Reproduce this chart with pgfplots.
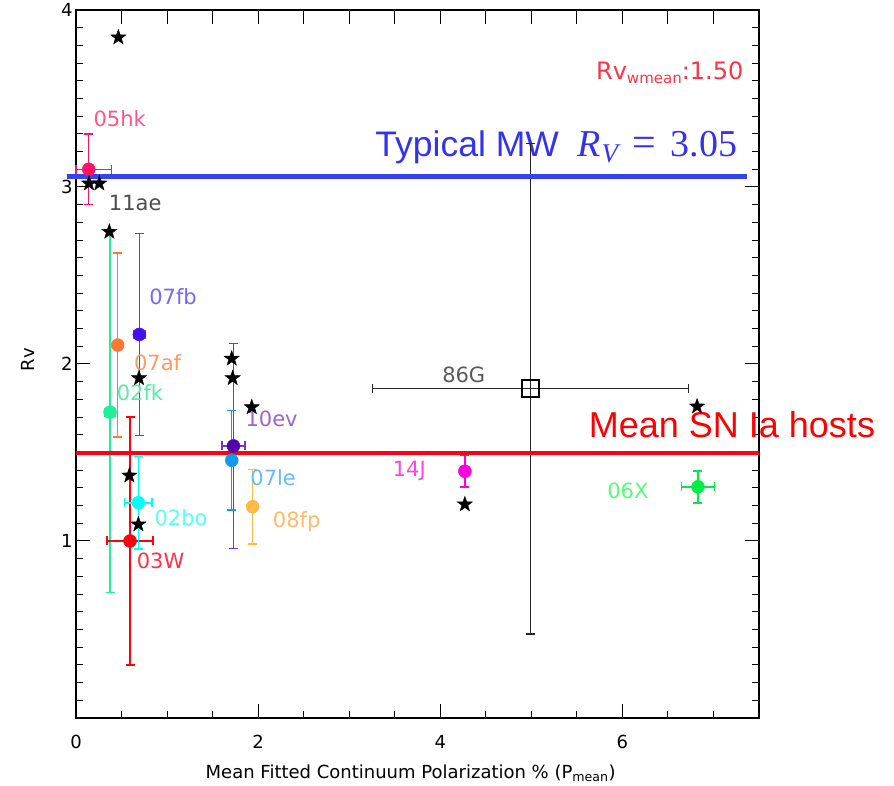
\documentclass[border=0pt]{standalone}
\usepackage{pgfplots}
\pgfplotsset{compat=1.18}
\usepackage{fontspec}
\setmainfont{DejaVu Sans}
\newfontfamily\arialf{Liberation Sans}
\newfontfamily\seriff{Liberation Serif}
\definecolor{c05hk}{HTML}{FF1166}\definecolor{l05hk}{HTML}{FF5588}
\definecolor{c02fk}{HTML}{22EE99}\definecolor{l02fk}{HTML}{55EEAA}
\definecolor{c07af}{HTML}{FF7733}\definecolor{l07af}{HTML}{FF9966}
\definecolor{c07fb}{HTML}{4411EE}\definecolor{e07fb}{HTML}{6633FF}\definecolor{l07fb}{HTML}{7766FF}
\definecolor{c10ev}{HTML}{5500AA}\definecolor{e10ev}{HTML}{7733CC}\definecolor{l10ev}{HTML}{9966CC}
\definecolor{c07le}{HTML}{1199EE}\definecolor{l07le}{HTML}{66BBFF}
\definecolor{c08fp}{HTML}{FFBB44}\definecolor{l08fp}{HTML}{FFBB66}
\definecolor{c02bo}{HTML}{00FFFF}\definecolor{l02bo}{HTML}{55FFFF}
\definecolor{c03W}{HTML}{FF0011}\definecolor{l03W}{HTML}{FF3344}
\definecolor{c14J}{HTML}{FF00DD}\definecolor{l14J}{HTML}{FF44EE}
\definecolor{c06X}{HTML}{00EE44}\definecolor{l06X}{HTML}{55FF77}
\definecolor{mwblue}{HTML}{3344EE}
\definecolor{mwtext}{HTML}{3333EE}
\definecolor{snred}{HTML}{FF0011}
\pgfdeclareplotmark{fstar}{%
  \pgfpathmoveto{\pgfpointpolar{90}{\pgfplotmarksize}}%
  \pgfpathlineto{\pgfpointpolar{126}{0.4\pgfplotmarksize}}%
  \pgfpathlineto{\pgfpointpolar{162}{\pgfplotmarksize}}%
  \pgfpathlineto{\pgfpointpolar{198}{0.4\pgfplotmarksize}}%
  \pgfpathlineto{\pgfpointpolar{234}{\pgfplotmarksize}}%
  \pgfpathlineto{\pgfpointpolar{270}{0.4\pgfplotmarksize}}%
  \pgfpathlineto{\pgfpointpolar{306}{\pgfplotmarksize}}%
  \pgfpathlineto{\pgfpointpolar{342}{0.4\pgfplotmarksize}}%
  \pgfpathlineto{\pgfpointpolar{18}{\pgfplotmarksize}}%
  \pgfpathlineto{\pgfpointpolar{54}{0.4\pgfplotmarksize}}%
  \pgfpathclose
  \pgfusepathqfillstroke}
\pgfplotsset{
  pt/.style={only marks, mark=*, mark size=6.5pt,
    error bars/x dir=both, error bars/x explicit,
    error bars/y dir=both, error bars/y explicit,
    error bars/error bar style={line width=1.5pt},
    error bars/error mark options={rotate=90, mark size=4.5pt, line width=1.5pt}},
  ebcol/.style={error bars/error bar style={line width=1.5pt, color=#1},
    error bars/error mark options={rotate=90, mark size=4.5pt, line width=1.5pt, color=#1}},
}
\tikzset{tk/.style={draw=black, line width=1pt}}
\begin{document}
\begin{tikzpicture}
\begin{axis}[
  at={(0,0)}, anchor=south west,
  scale only axis, width=683pt, height=708pt,
  xmin=0, xmax=7.5, ymin=0, ymax=4,
  xtick={0,2,4,6}, ytick={0,1,2,3,4}, yticklabels={,1,2,3,4},
  minor xtick={0,0.5,...,7.5}, minor ytick={0,0.1,...,4},
  tick align=inside, major tick length=14pt, minor tick length=7pt,
  axis line style={line width=1.2pt},
  major tick style={draw=black, line width=1pt},
  minor tick style={draw=black, line width=1pt},
  /pgf/number format/assume math mode=true,
  tick label style={font=\fontsize{18}{20}\selectfont},
  xticklabel style={yshift=-14pt},
  label style={font=\fontsize{18}{20}\selectfont},
  xlabel={Mean Fitted Continuum Polarization \% (P\textsubscript{mean})},
  ylabel={Rv},
  xlabel style={at={(axis description cs:0.49,-0.078)}, anchor=center},
  ylabel style={at={(axis description cs:-0.070,0.506)}, anchor=center},
  clip=false,
]
% tick marks along the frame (lengths in data units: 7pt = 0.0395 in y, 0.077 in x)
\pgfplotsinvokeforeach{0.5,1,1.5,2.5,3,3.5,4.5,5,5.5,6.5,7}{
  \draw[tk] (axis cs:#1,0) -- (axis cs:#1,0.0395);
  \draw[tk] (axis cs:#1,4) -- (axis cs:#1,3.921);
}
\pgfplotsinvokeforeach{2,4,6}{
  \draw[tk] (axis cs:#1,0) -- (axis cs:#1,0.079);
  \draw[tk] (axis cs:#1,4) -- (axis cs:#1,3.921);
}
\pgfplotsinvokeforeach{0.1,0.2,0.3,0.4,0.5,0.6,0.7,0.8,0.9,1.1,1.2,1.3,1.4,1.5,1.6,1.7,1.8,1.9,2.1,2.2,2.3,2.4,2.5,2.6,2.7,2.8,2.9,3.1,3.2,3.3,3.4,3.5,3.6,3.7,3.8,3.9}{
  \draw[tk] (axis cs:0,#1) -- (axis cs:0.077,#1);
  \draw[tk] (axis cs:7.5,#1) -- (axis cs:7.423,#1);
}
\pgfplotsinvokeforeach{1,2,3}{
  \draw[tk] (axis cs:0,#1) -- (axis cs:0.154,#1);
  \draw[tk] (axis cs:7.5,#1) -- (axis cs:7.346,#1);
}

% blue text (behind data)
\begin{scope}[every node/.style={anchor=base west, text=mwtext, inner sep=0pt}]
\node[font=\arialf\fontsize{35.5}{40}\selectfont] at (axis cs:3.286,3.172) {Typical MW};
\node[font=\seriff\itshape\fontsize{38}{40}\selectfont] at (axis cs:5.505,3.172) {R\kern1pt\raisebox{-6pt}{\fontsize{27}{28}\selectfont V}};
\node[font=\seriff\fontsize{42}{44}\selectfont] at (axis cs:6.11,3.172) {=};
\node[font=\seriff\fontsize{38}{40}\selectfont] at (axis cs:6.527,3.172) {3.05};
\end{scope}

% supernovae
\addplot[pt, color=c05hk] coordinates {(0.14,3.10) += (0.25,0.20) -= (0.14,0.20)};
\addplot[pt, color=c02fk] coordinates {(0.374,1.728) +- (0.06,1.02)};
\addplot[pt, color=c07af] coordinates {(0.458,2.107) +- (0,0.52)};
\addplot[pt, color=c07fb, ebcol=e07fb] coordinates {(0.696,2.167) +- (0.065,0.57)};
\addplot[pt, color=c03W] coordinates {(0.593,1.0) +- (0.25,0.70)};
\addplot[pt, color=c02bo] coordinates {(0.685,1.216) +- (0.15,0.26)};
\addplot[pt, color=c10ev, ebcol=e10ev] coordinates {(1.729,1.537) +- (0.125,0.58)};
\addplot[pt, color=c07le] coordinates {(1.71,1.456) +- (0,0.28)};
\addplot[pt, color=c08fp] coordinates {(1.94,1.194) +- (0,0.21)};
\addplot[pt, color=c14J] coordinates {(4.27,1.394) +- (0,0.09)};
\addplot[pt, color=c06X] coordinates {(6.83,1.306) +- (0.18,0.09)};
\addplot[only marks, mark=square, mark size=8.5pt, mark options={line width=1.8pt}, black,
  error bars/x dir=both, error bars/x explicit, error bars/y dir=both, error bars/y explicit,
  error bars/error bar style={line width=1.2pt, color=black!85},
  error bars/error mark options={rotate=90, mark size=4.5pt, line width=1.2pt, color=black!85}]
  coordinates {(4.99,1.86) +- (1.735,1.385)};

% stars
\addplot[only marks, mark=fstar, mark size=8pt, black] coordinates {
 (0.465,3.845) (0.143,3.02) (0.256,3.02) (0.366,2.747) (0.692,1.92)
 (1.71,2.03) (1.72,1.92) (1.93,1.756) (0.586,1.37) (0.685,1.094)
 (6.82,1.76) (4.27,1.207)};

% labels
\begin{scope}[every node/.style={anchor=base, inner sep=0pt, font=\fontsize{21}{24}\selectfont}]
\node[text=l05hk] at (axis cs:0.48,3.339) {05hk};
\node[text=black!70] at (axis cs:0.65,2.866) {11ae};
\node[text=l07fb] at (axis cs:1.066,2.338) {07fb};
\node[text=l07af] at (axis cs:0.896,1.961) {07af};
\node[text=l02fk] at (axis cs:0.703,1.792) {02fk};
\node[text=l10ev] at (axis cs:2.148,1.645) {10ev};
\node[text=l07le] at (axis cs:2.165,1.314) {07le};
\node[text=l08fp] at (axis cs:2.423,1.077) {08fp};
\node[text=l02bo] at (axis cs:1.154,1.088) {02bo};
\node[text=l03W] at (axis cs:0.929,0.846) {03W};
\node[text=l14J] at (axis cs:3.66,1.366) {14J};
\node[text=l06X] at (axis cs:6.06,1.241) {06X};
\node[text=black!65] at (axis cs:4.258,1.893) {86G};
\end{scope}

% reference lines
\addplot[mwblue, line width=5pt, no marks] coordinates {(-0.1,3.06) (7.37,3.06)};
\addplot[snred, line width=4.5pt, no marks] coordinates {(0,1.497) (7.5,1.497)};

\node[anchor=base west, text=red, font=\arialf\fontsize{36}{40}\selectfont, inner sep=0pt]
  at (axis cs:5.63,1.584) {Mean SN Ia hosts};
\node[anchor=base east, text=l03W, font=\fontsize{24}{26}\selectfont, inner sep=0pt]
  at (axis cs:7.33,3.608) {Rv\raisebox{-4pt}{\fontsize{15}{16}\selectfont wmean}:1.50};
\end{axis}
\pgfresetboundingbox
\path[use as bounding box] (-76pt,-68pt) rectangle (818pt,718pt);
\end{tikzpicture}
\end{document}
